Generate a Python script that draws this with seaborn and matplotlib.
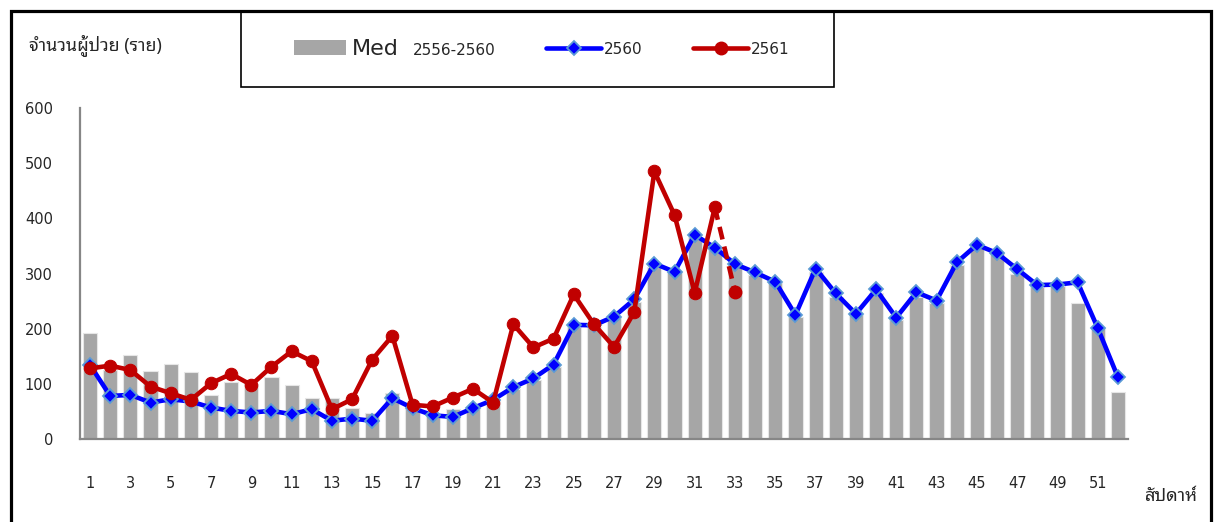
import numpy as np
import pandas as pd
import matplotlib
matplotlib.use("Agg")
import matplotlib.pyplot as plt
from matplotlib.lines import Line2D
from matplotlib.patches import Patch, Rectangle
import seaborn as sns

# weekly cases
weeks = list(range(1, 53))
med_2556_2560 = [193, 125, 152, 123, 136, 122, 80, 103, 100, 112, 98, 74, 74, 56, 48, 83,
                 55, 45, 54, 55, 71, 90, 107, 131, 203, 203, 219, 248, 312, 303, 366, 343,
                 312, 297, 282, 222, 303, 258, 225, 264, 216, 258, 246, 315, 349, 337, 300,
                 275, 277, 246, 201, 86]
cases_2560 = [134, 78, 80, 66, 72, 68, 57, 51, 48, 51, 45, 54, 33, 37, 33, 74, 56, 43, 40,
              56, 71, 94, 110, 135, 207, 206, 222, 253, 318, 303, 370, 347, 317, 302, 285,
              225, 309, 264, 227, 271, 220, 266, 251, 320, 352, 337, 308, 279, 280, 284,
              201, 112]
cases_2561 = [128, 133, 125, 95, 83, 71, 101, 118, 98, 131, 159, 141, 54, 72, 144, 187, 62,
              59, 75, 91, 66, 208, 166, 182, 262, 208, 167, 230, 485, 406, 265, 420, 267]
odd_week_ticks = list(range(1, 52, 2))

med_df = pd.DataFrame({"week": weeks, "cases": med_2556_2560})
y60_df = pd.DataFrame({"week": weeks, "cases": cases_2560})
y61_df = pd.DataFrame({"week": weeks[:len(cases_2561)], "cases": cases_2561})

sns.set_style("white")
plt.rcParams["font.family"] = ["DejaVu Sans"]
THAI = ["Noto Sans Thai Looped", "Sarabun", "Noto Sans Thai", "Anuphan", "DejaVu Sans"]

GRAY = "#A6A6A6"
BLUE = "#0000FF"
RED = "#C00000"
AXC = "#868686"
W, H = 1217, 522

fig = plt.figure(figsize=(W / 100, H / 100), dpi=100)
ax = fig.add_axes([80 / W, 1 - 439 / H, (1128 - 80) / W, (439 - 108) / H])

sns.barplot(data=med_df, x="week", y="cases", native_scale=True, color=GRAY,
            saturation=1, width=0.7, edgecolor="#E6E6E6", linewidth=0.8, ax=ax,
            errorbar=None, zorder=1)
sns.lineplot(data=y60_df, x="week", y="cases", color=BLUE, lw=3.3, marker="D",
             markersize=7, markerfacecolor=BLUE, markeredgecolor="#5B9BD5",
             markeredgewidth=1.3, ax=ax, zorder=3)
solid = y61_df.iloc[:-1]
dash = y61_df.iloc[-2:]
sns.lineplot(data=solid, x="week", y="cases", color=RED, lw=3.3, marker="o",
             markersize=9, markeredgecolor=RED, ax=ax, zorder=4)
sns.lineplot(data=dash, x="week", y="cases", color=RED, lw=3.3, ax=ax, zorder=4,
             linestyle=(0, (2.8, 1.6)))
ax.plot(dash["week"].iloc[-1:], dash["cases"].iloc[-1:], "o", color=RED, markersize=9,
        zorder=4)

ax.set_xlim(0.5, 52.5)
ax.set_ylim(0, 600)
ax.set_yticks(range(0, 601, 100))
ax.set_xticks(odd_week_ticks)
ax.set_xticks(np.arange(0.5, 53, 1), minor=True)
ax.tick_params(axis="x", which="major", length=0, pad=27, labelsize=10.5)
ax.tick_params(axis="x", which="minor", length=6, width=1.3, color=AXC, direction="out")
ax.tick_params(axis="y", length=6, width=1.3, color=AXC, direction="out", pad=13.5,
               labelsize=10.5)
ax.set_xlabel("")
ax.set_ylabel("")
for s in ["top", "right"]:
    ax.spines[s].set_visible(False)
for s in ["left", "bottom"]:
    ax.spines[s].set_color(AXC)
    ax.spines[s].set_linewidth(1.6)
ax.set_facecolor("none")

fig.text(29 / W, 1 - 45 / H, "จำนวนผู้ป่วย (ราย)", fontsize=12.8, va="center", ha="left",
         family=THAI)
fig.text(1198 / W, 1 - 496 / H, "สัปดาห์", fontsize=13, va="center", ha="right",
         family=THAI)

# outer frame and legend box
fig.patches.append(Rectangle((11 / W, -0.1), (1211 - 11) / W, 1.1 - 11 / H,
                             transform=fig.transFigure, fill=False, edgecolor="black",
                             lw=2.3, zorder=0))
fig.patches.append(Rectangle((241 / W, 1 - 87 / H), (834 - 241) / W, (87 - 11) / H,
                             transform=fig.transFigure, fill=False, edgecolor="black",
                             lw=1.2, zorder=0))

leg_y = 1 - 49 / H
med_leg = fig.legend([Patch(facecolor=GRAY, edgecolor="none")], ["Med"], loc="center left",
                     bbox_to_anchor=(294 / W, leg_y), frameon=False, fontsize=16,
                     borderpad=0, borderaxespad=0, handlelength=2.34, handleheight=0.68,
                     handletextpad=0.28)
fig.text(413 / W, 1 - 50.5 / H, "2556-2560", fontsize=11, va="center", ha="left")

line_handles = [Line2D([], [], color=BLUE, lw=3.3, marker="D", markersize=7,
                       markerfacecolor=BLUE, markeredgecolor="#5B9BD5", markeredgewidth=1.3),
                Line2D([], [], color=RED, lw=3.3, marker="o", markersize=9)]
fig.legend(line_handles, ["2560", "2561"], loc="center left",
           bbox_to_anchor=(546 / W, leg_y), ncol=2, frameon=False, fontsize=11,
           borderpad=0, borderaxespad=0, handlelength=3.6, handletextpad=0.2,
           columnspacing=3.3)

fig.savefig("out.png", dpi=100, facecolor="white")
plt.close(fig)
